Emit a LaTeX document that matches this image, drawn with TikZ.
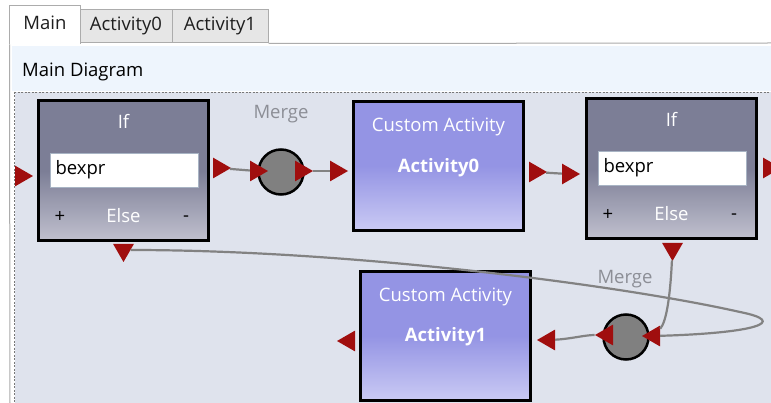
\documentclass[tikz,border=0pt]{standalone}
\usepackage{fontspec}
\setmainfont{Open Sans}
\usetikzlibrary{shapes.geometric, positioning}
\definecolor{portred}{RGB}{160,14,14}
\definecolor{wiregray}{RGB}{130,130,130}
\definecolor{canvasbg}{RGB}{223,227,237}
\definecolor{canvasline}{RGB}{120,120,120}
\definecolor{headerbg}{RGB}{238,245,253}
\definecolor{tabgray}{RGB}{230,230,230}
\definecolor{tabline}{RGB}{172,172,172}
\definecolor{tabtext}{RGB}{30,30,30}
\definecolor{iftop}{RGB}{124,126,150}
\definecolor{ifbot}{RGB}{192,192,206}
\definecolor{acttop}{RGB}{148,148,228}
\definecolor{actbot}{RGB}{202,202,244}
\definecolor{mergegray}{RGB}{128,128,128}
\definecolor{labelgray}{RGB}{140,142,150}
\definecolor{fieldline}{RGB}{168,180,196}
\newcommand{\boxW}{170pt}

\begin{document}
\begin{tikzpicture}[x=1pt, y=-1pt, font=\fontsize{18.5}{22}\selectfont,
	txt/.style={inner sep=0pt, text height=13pt, text depth=4pt},
	tab/.style={txt, draw=tabline, line width=1pt, fill=tabgray, minimum height=33pt, text=tabtext},
	ifbox/.style={draw=black, line width=3pt, minimum width=\boxW, minimum height=140pt, inner sep=0pt, top color=iftop, bottom color=ifbot, middle color=iftop},
	actbox/.style={draw=black, line width=3pt, minimum width=\boxW, minimum height=129pt, inner sep=0pt, top color=acttop, bottom color=actbot, middle color=acttop},
	field/.style={draw=fieldline, line width=1pt, fill=white, minimum height=34pt, text width=138pt, inner xsep=5pt, inner ysep=0pt, text height=13pt, text depth=4pt, align=left, text=black},
	mergenode/.style={circle, draw=black, line width=2.5pt, fill=mergegray, minimum size=45pt, inner sep=0pt},
	port/.style={regular polygon, regular polygon sides=3, fill=portred, inner sep=0pt, minimum size=24pt},
	portR/.style={port, rotate=-90},
	portL/.style={port, rotate=90},
	portD/.style={port, rotate=180},
	boxtext/.style={txt, text=white},
	caption/.style={txt, text=labelgray},
	wire/.style={draw=wiregray, line width=2.2pt}]
	\useasboundingbox (0,0) rectangle (771,403);
	\clip (0,0) rectangle (771,403);
	\fill[white] (0,0) rectangle (771,403);
	
	% tabs and panel
	\fill[headerbg] (12,46) rectangle (771,91);
	\filldraw[fill=canvasbg, draw=canvasline, dash pattern=on 2pt off 1.5pt] (14.5,92) rectangle (790,420);
	\node[tab, fill=white, draw=none, minimum width=70pt, minimum height=38pt] (tabmain) at (45,25) {Main};
	\node[tab, minimum width=92pt] (tabact0) at (126,26.5) {Activity0};
	\node[tab, minimum width=96pt] (tabact1) at (220,26.5) {Activity1};
	\draw[tabline, line width=1pt] (tabmain.south west) |- (tabmain.north east) -- (tabmain.south east);
	\draw[tabline, line width=1pt] (tabact1.south east) -- (771,43);
	\draw[tabline, line width=1pt] (tabmain.south west) -- (10,403);
	\node[txt, anchor=west, text=black] (title) at (22,72) {Main Diagram};
	
	% activities
	\node[ifbox] (if1) at (123.5,170.5) {};
	\node[actbox] (a0) at (438.5,166) {};
	\node[ifbox] (if2) at (671.5,168.5) {};
	\node[actbox] (a1) at (445.5,336) {};
	\node[mergenode] (m1) at (281,172) {};
	\node[mergenode] (m2) at (626,337) {};
	
	\node[boxtext] (if1title) at (123.5,124) {If};
	\node[field] (if1expr) at (124.5,170.5) {bexpr};
	\node[txt] (if1plus) at (60,218) {+};
	\node[boxtext] (if1elselabel) at (123.5,218) {Else};
	\node[txt] (if1minus) at (186,217) {-};
	
	\node[boxtext] (if2title) at (671.5,122) {If};
	\node[field] (if2expr) at (672.5,168.5) {bexpr};
	\node[txt] (if2plus) at (608,216) {+};
	\node[boxtext] (if2elselabel) at (671.5,216) {Else};
	\node[txt] (if2minus) at (734,215) {-};
	
	\node[boxtext] (a0kind) at (438.5,127) {Custom Activity};
	\node[boxtext, font=\fontsize{18.5}{22}\selectfont\bfseries] (a0name) at (438.5,168) {Activity0};
	\node[boxtext] (a1kind) at (445.5,297) {Custom Activity};
	\node[boxtext, font=\fontsize{18.5}{22}\selectfont\bfseries] (a1name) at (445.5,337) {Activity1};
	
	\node[caption] (m1label) at (281,114) {Merge};
	\node[caption] (m2label) at (625,279) {Merge};
	
	% ports
	\node[portR] (if1in) at (21,176) {};
	\node[portR] (if1out) at (219,168) {};
	\node[portD] (if1else) at (123.5,250) {};
	\node[portR] (m1in) at (256,171) {};
	\node[portR] (m1out) at (301,171) {};
	\node[portR] (a0in) at (336,171) {};
	\node[portR] (a0out) at (535,172) {};
	\node[portR] (if2in) at (568,174) {};
	\node[portR] (if2out) at (769,168) {};
	\node[portD] (if2else) at (672.5,249) {};
	\node[portL] (m2in) at (654,336) {};
	\node[portL] (m2out) at (607,335) {};
	\node[portL] (a1in) at (549,340) {};
	\node[portL] (a1out) at (349,341) {};
	
	% wires
	\coordinate (loopturn) at (740,312);
	\draw[wire] (if1out) -- (m1in);
	\draw[wire] (m1out) -- (a0in);
	\draw[wire] (a0out) -- (if2in);
	\draw[wire] (if1else) .. controls (350,250) and (620,285) .. (loopturn) .. controls (790,322) and (755,333) .. (m2in);
	\draw[wire] (if2else) .. controls (670,300) and (666,322) .. (m2in);
	\draw[wire] (m2out) .. controls (585,335) and (570,339) .. (a1in);
\end{tikzpicture}
\end{document}
